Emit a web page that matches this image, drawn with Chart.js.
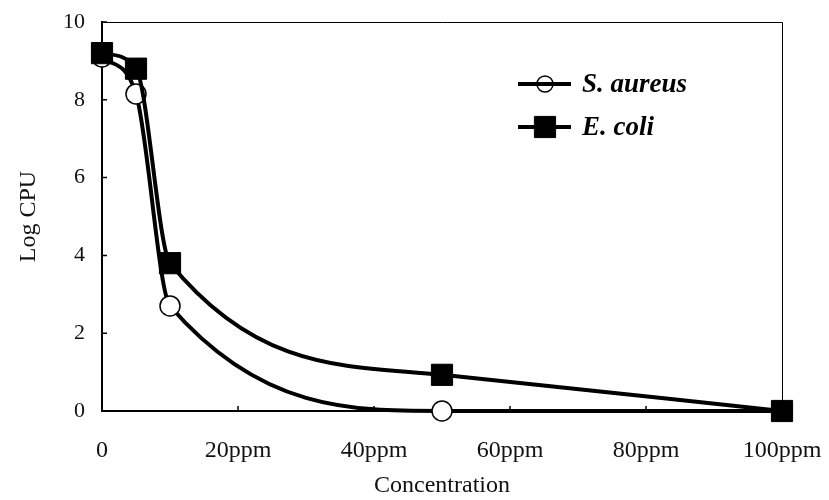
<!DOCTYPE html>
<html>
<head>
<meta charset="utf-8">
<script src="https://cdn.jsdelivr.net/npm/chart.js@4"></script>
<style>
  html, body { margin: 0; padding: 0; background: #fff; }
  #wrap { width: 829px; height: 500px; }
</style>
</head>
<body>
<div id="wrap"><canvas id="c" width="829" height="500"></canvas></div>
<script>
const concentrations = [0, 5, 10, 50, 100];
const sAureus = [9.1, 8.15, 2.7, 0, 0];
const eColi = [9.2, 8.8, 3.8, 0.93, 0];
const seriesNames = ['S. aureus', 'E. coli'];
const xTickValues = [0, 20, 40, 60, 80, 100];
const yTickValues = [0, 2, 4, 6, 8, 10];
const xTitle = 'Concentration';
const yTitle = 'Log CPU';

const serif = "'Liberation Serif', 'DejaVu Serif', serif";

const toXY = (vals) => concentrations.map((c, i) => ({ x: c, y: vals[i] }));

const frameAndTicks = {
  id: 'frameAndTicks',
  afterDatasetsDraw(chart) {
    const { ctx, chartArea: a, scales } = chart;
    ctx.save();
    ctx.strokeStyle = '#000';
    ctx.lineWidth = 1;
    ctx.beginPath();
    ctx.moveTo(a.left, a.top + 0.5);
    ctx.lineTo(a.right + 0.5, a.top + 0.5);
    ctx.lineTo(a.right + 0.5, a.bottom);
    ctx.stroke();
    ctx.lineWidth = 1.5;
    ctx.beginPath();
    scales.x.ticks.forEach((t, i) => {
      const px = scales.x.getPixelForTick(i);
      ctx.moveTo(px, a.bottom);
      ctx.lineTo(px, a.bottom - 5);
    });
    scales.y.ticks.forEach((t, i) => {
      const py = scales.y.getPixelForTick(i);
      ctx.moveTo(a.left, py);
      ctx.lineTo(a.left + 5, py);
    });
    ctx.stroke();
    ctx.restore();
  }
};

const insideLegend = {
  id: 'insideLegend',
  afterDraw(chart) {
    const { ctx } = chart;
    const rows = [
      { y: 84, ds: chart.data.datasets[0] },
      { y: 127, ds: chart.data.datasets[1] }
    ];
    ctx.save();
    rows.forEach(r => {
      ctx.strokeStyle = '#000';
      ctx.lineWidth = 4;
      ctx.beginPath();
      ctx.moveTo(518, r.y);
      ctx.lineTo(571, r.y);
      ctx.stroke();
      ctx.fillStyle = r.ds.pointBackgroundColor;
      ctx.strokeStyle = '#000';
      ctx.lineWidth = r.ds.pointBorderWidth;
      ctx.beginPath();
      if (r.ds.pointStyle === 'circle') {
        ctx.arc(545, r.y, r.ds.pointRadius - 2, 0, Math.PI * 2);
      } else {
        const s = r.ds.pointRadius * Math.SQRT1_2;
        ctx.rect(545 - s, r.y - s, 2 * s, 2 * s);
      }
      ctx.fill();
      ctx.stroke();
      if (r.ds.pointStyle === 'circle') {
        ctx.lineWidth = 4;
        ctx.beginPath();
        ctx.moveTo(537, r.y);
        ctx.lineTo(553, r.y);
        ctx.stroke();
      }
      ctx.fillStyle = '#000';
      ctx.font = "italic bold 27px " + serif;
      ctx.textBaseline = 'middle';
      ctx.textAlign = 'left';
      ctx.fillText(r.ds.label, 582, r.y + 1);
    });
    ctx.restore();
  }
};

new Chart(document.getElementById('c'), {
  type: 'line',
  data: {
    datasets: [
      {
        label: seriesNames[0],
        data: toXY(sAureus),
        borderColor: '#000',
        borderWidth: 4,
        cubicInterpolationMode: 'monotone',
        pointStyle: 'circle',
        pointRadius: 10,
        pointBorderWidth: 1.5,
        pointBackgroundColor: '#fff',
        pointBorderColor: '#000',
        clip: false,
        order: 1
      },
      {
        label: seriesNames[1],
        data: toXY(eColi),
        borderColor: '#000',
        borderWidth: 4,
        cubicInterpolationMode: 'monotone',
        pointStyle: 'rect',
        pointRadius: 15,
        pointBorderWidth: 1,
        pointBackgroundColor: '#000',
        pointBorderColor: '#000',
        clip: false,
        order: 0
      }
    ]
  },
  options: {
    responsive: false,
    animation: false,
    devicePixelRatio: 1,
    layout: { autoPadding: false, padding: { left: 0, right: 47, top: 22, bottom: 0 } },
    plugins: {
      legend: { display: false },
      tooltip: { enabled: false }
    },
    scales: {
      x: {
        type: 'linear',
        min: 0,
        max: 100,
        afterBuildTicks(scale) { scale.ticks = xTickValues.map(v => ({ value: v })); },
        grid: { display: false, drawTicks: false },
        border: { display: true, color: '#000', width: 2 },
        ticks: {
          padding: 25,
          color: '#111',
          font: { family: serif, size: 24 },
          maxRotation: 0,
          callback: (v) => v === 0 ? '0' : v + 'ppm'
        },
        title: {
          display: true,
          text: xTitle,
          color: '#111',
          font: { family: serif, size: 24 },
          padding: { top: 8, bottom: 0 }
        },
        afterFit(scale) {
          scale.height = 89;
          scale.paddingLeft = 0;
          scale.paddingRight = 0;
        }
      },
      y: {
        min: 0,
        max: 10,
        afterBuildTicks(scale) { scale.ticks = yTickValues.map(v => ({ value: v })); },
        grid: { display: false, drawTicks: false },
        border: { display: true, color: '#000', width: 2 },
        ticks: {
          padding: 17,
          color: '#111',
          font: { family: serif, size: 22 }
        },
        title: {
          display: true,
          text: yTitle,
          color: '#111',
          font: { family: serif, size: 24 },
          padding: { top: 14, bottom: 0 }
        },
        afterFit(scale) {
          scale.width = 102;
          scale.paddingTop = 0;
          scale.paddingBottom = 0;
        }
      }
    }
  },
  plugins: [frameAndTicks, insideLegend]
});
</script>
</body>
</html>
